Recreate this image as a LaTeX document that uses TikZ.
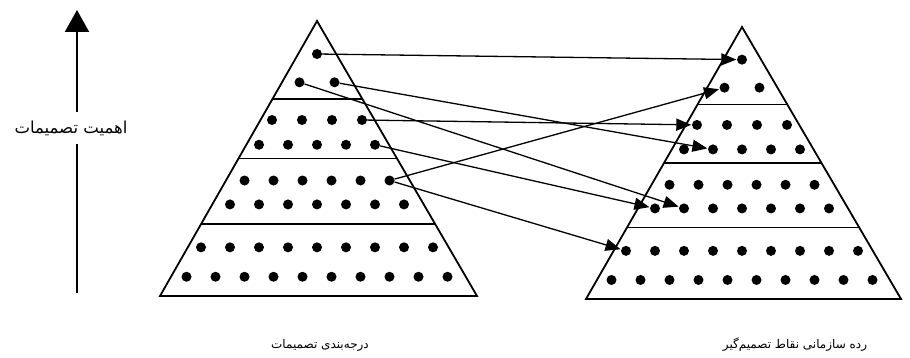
\documentclass[tikz,border=0pt]{standalone}
\usepackage{fontspec}
\newfontfamily\farsifont[Script=Arabic]{DejaVu Sans}
\TeXXeTstate=1
\usetikzlibrary{arrows.meta, calc}

\begin{document}
\begin{tikzpicture}[
    x=1pt, y=1pt,
    >={Triangle[length=15pt, width=12pt]}, % arrow tips
    % pyramid outline and tier lines
    tier/.style={draw, line width=1.8pt, line join=miter},
    % the decision points
    dot/.style={circle, fill=black, minimum size=10pt, inner sep=0pt},
    % links from one pyramid to the other
    link/.style={->, line width=1.3pt, shorten >=0.5pt},
    % persian captions
    farsi/.style={font=\farsifont\fontsize{12}{14}\selectfont, inner sep=2pt}
]
\useasboundingbox (0,0) rectangle (910,357);

% 1. the two pyramids
\coordinate (Ltop) at (317,336);
\coordinate (Lbl) at (160,61);
\coordinate (Lbr) at (477,61);
\coordinate (Rtop) at (742,330);
\coordinate (Rbl) at (586,58);
\coordinate (Rbr) at (901,58);

\foreach \p in {L,R} {
  \draw[tier] (\p top) -- (\p bl) -- (\p br) -- cycle;
  \foreach \f in {0.285,0.5,0.737}
    \draw[tier] ($(\p top)!\f!(\p bl)$) -- ($(\p top)!\f!(\p br)$);
}

% 2. the dots, row by row (depth / number / spacing)
\foreach \f/\n/\s [count=\r] in {0.12/1/29, 0.223/2/35, 0.36/4/30, 0.45/5/29,
                                0.58/6/29, 0.667/7/29, 0.823/9/29, 0.93/10/29}
  \foreach \k in {1,...,\n} {
    \node[dot] (L-\r-\k) at ({317+(\k-(\n+1)/2)*\s}, {336-\f*275}) {};
    \node[dot] (R-\r-\k) at ({742+(\k-(\n+1)/2)*\s}, {330-\f*272}) {};
  }

% 3. links between the decisions and the decision points
\draw[link] (L-1-1) -- (R-1-1);
\draw[link] (L-2-1) -- (R-6-2);
\draw[link] (L-2-2) -- (R-4-2);
\draw[link] (L-3-4) -- (R-3-1);
\draw[link] (L-4-5) -- (R-6-1);
\draw[link] (L-5-6) -- (R-2-1);
\draw[link] (L-5-6) -- (R-7-1);

% 4. importance axis and captions
\node[farsi, font=\farsifont\fontsize{16.5}{18}\selectfont, inner ysep=8pt] (importance) at (71,229) {\beginR اهمیت تصمیمات\endR};
\coordinate (axtop) at (77,347);
\coordinate (axbot) at (77,64);
\draw[line width=2pt, -{Triangle[length=22pt, width=24pt]}] (importance.north -| axtop) -- (axtop);
\draw[line width=2pt] (importance.south -| axbot) -- (axbot);

\node[farsi] (grading) at (320,12) {\beginR درجه‌بندی تصمیمات\endR};
\node[farsi] (levels) at (795,12) {\beginR رده سازمانی نقاط تصمیم‌گیر\endR};

\end{tikzpicture}
\end{document}
